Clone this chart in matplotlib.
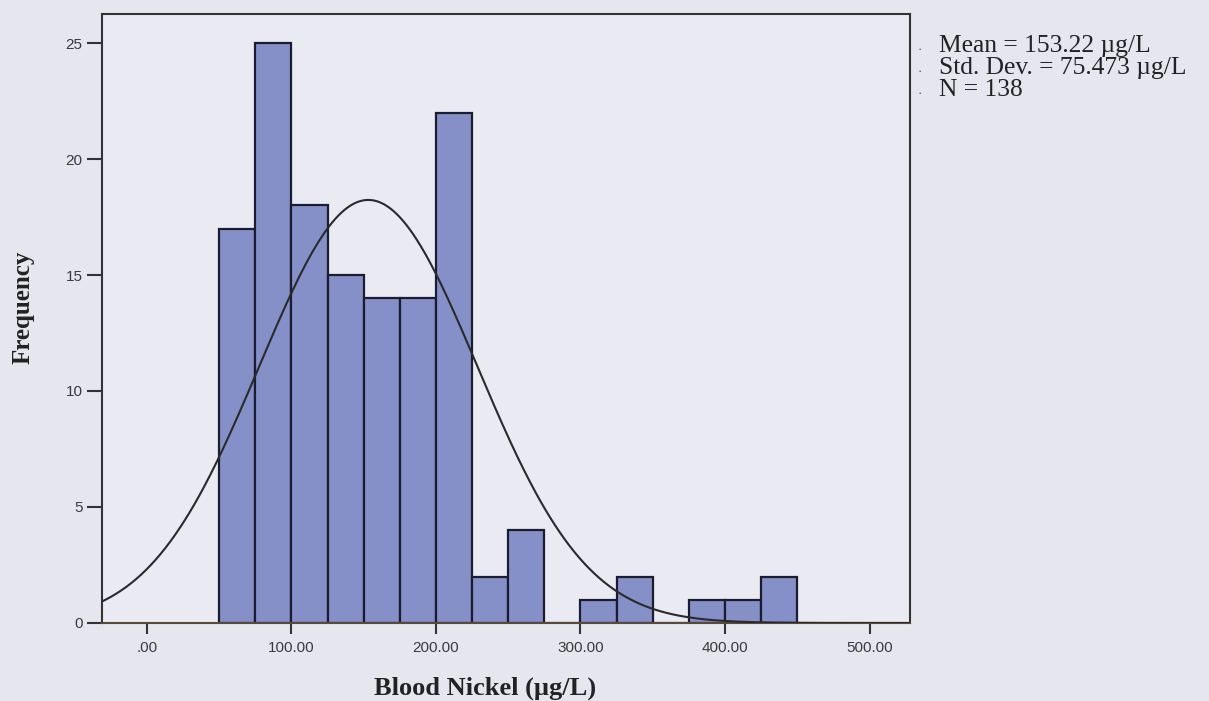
import numpy as np
import matplotlib.pyplot as plt

# histogram data (bin width 25, starting at 50)
bin_lefts = [50, 75, 100, 125, 150, 175, 200, 225, 250, 275, 300, 325, 350, 375, 400, 425]
counts = [17, 25, 18, 15, 14, 14, 22, 2, 4, 0, 1, 2, 0, 1, 1, 2]
bin_width = 25
mean_val = 153.22
std_val = 75.473
n_obs = 138

x_ticks = [0, 100, 200, 300, 400, 500]
x_tick_labels = ['.00', '100.00', '200.00', '300.00', '400.00', '500.00']
y_ticks = [0, 5, 10, 15, 20, 25]

bg = '#e6e6ef'
fig = plt.figure(figsize=(12.09, 7.01), dpi=100, facecolor=bg)
ax = fig.add_axes([0.0844, 0.1113, 0.6683, 0.8687])
ax.set_facecolor('#eaeaf2')

ax.bar(bin_lefts, counts, width=bin_width, align='edge', color='#8590c8',
       edgecolor='#1c1c30', linewidth=1.6, zorder=2)

# normal curve scaled to counts
xs = np.linspace(-31, 528, 500)
ys = n_obs * bin_width / (std_val * np.sqrt(2 * np.pi)) * np.exp(-0.5 * ((xs - mean_val) / std_val) ** 2)
ax.plot(xs, ys, color='#2a2a2a', linewidth=1.5, zorder=3)

ax.set_xlim(-31, 528)
ax.set_ylim(0, 26.25)
ax.set_xticks(x_ticks)
ax.set_xticklabels(x_tick_labels)
ax.set_yticks(y_ticks)
ax.tick_params(axis='x', direction='out', length=8, width=1.5, color='#333333',
               labelsize=11, labelcolor='#3a3a3a', pad=5)
ax.tick_params(axis='y', direction='out', length=11, width=1.5, color='#333333',
               labelsize=11, labelcolor='#3a3a3a', pad=3)
for lbl in ax.get_xticklabels() + ax.get_yticklabels():
    lbl.set_family('Liberation Sans')
for sp in ax.spines.values():
    sp.set_linewidth(1.5)
    sp.set_color('#333333')
ax.spines['bottom'].set_color('#5a4a3a')

fig.text(0.401, 0.0185, 'Blood Nickel (µg/L)', family='Liberation Serif', fontweight='bold',
         fontsize=19, color='#222222', ha='center', va='center')
fig.text(0.019, 0.561, 'Frequency', family='Liberation Serif', fontweight='bold',
         fontsize=18, color='#222222', ha='center', va='center', rotation=90)

stats = ['Mean = %.2f µg/L' % mean_val, 'Std. Dev. = %.3f µg/L' % std_val, 'N = %d' % n_obs]
for i, s in enumerate(stats):
    fig.text(0.777, 0.935 - i * 0.0314, s, family='Liberation Serif', fontsize=18.4,
             color='#222222', va='center')
    fig.text(0.759, 0.929 - i * 0.0314, '·', family='Liberation Serif', fontsize=9,
             color='#444444', va='center')

fig.savefig('out.png', dpi=100, facecolor=bg)
